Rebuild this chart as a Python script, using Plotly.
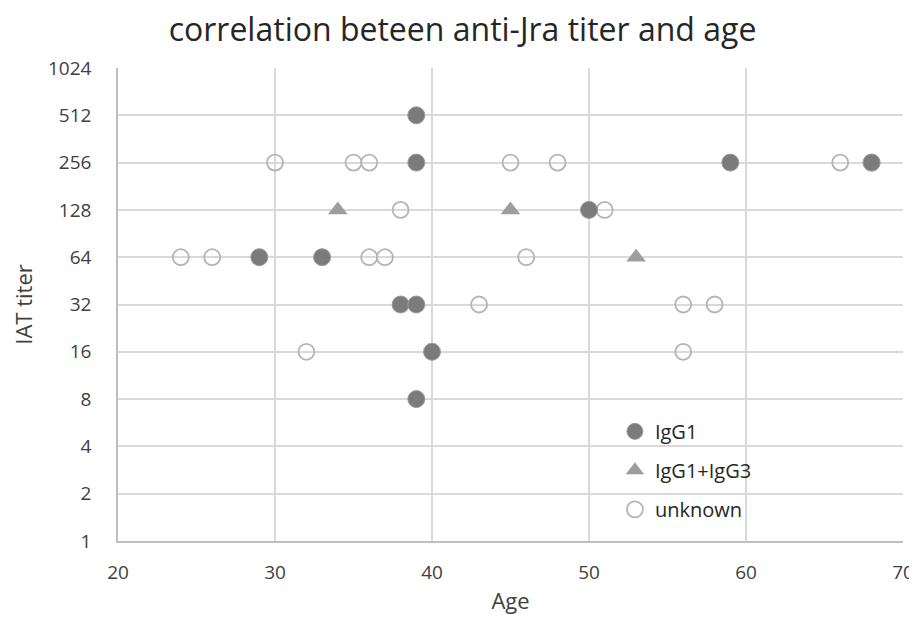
import plotly.graph_objects as go

# IgG1
igg1_age = [39, 39, 59, 68, 50, 29, 33, 38, 39, 40, 39]
igg1_titer = [512, 256, 256, 256, 128, 64, 64, 32, 32, 16, 8]
# IgG1+IgG3
igg13_age = [34, 45, 53]
igg13_titer = [128, 128, 64]
# unknown
unk_age = [30, 35, 36, 45, 48, 66, 68, 38, 51, 24, 26, 36, 37, 46, 43, 56, 58, 32, 56]
unk_titer = [256, 256, 256, 256, 256, 256, 256, 128, 128, 64, 64, 64, 64, 64, 32, 32, 32, 16, 16]

y_ticks = [1, 2, 4, 8, 16, 32, 64, 128, 256, 512, 1024]
x_ticks = [20, 30, 40, 50, 60, 70]

font = "Open Sans"
fig = go.Figure()
fig.add_trace(go.Scatter(
    x=unk_age, y=unk_titer, mode="markers", name="unknown", legendgroup="c", legendrank=3,
    marker=dict(symbol="circle-open", size=16, color="#b4b4b4", line=dict(width=1.8)),
))
fig.add_trace(go.Scatter(
    x=igg1_age, y=igg1_titer, mode="markers", name="IgG1", legendgroup="a", legendrank=1,
    marker=dict(symbol="circle", size=17, color="#7b7b7b", line=dict(color="#9a9a9a", width=1)),
))
fig.add_trace(go.Scatter(
    x=igg13_age, y=igg13_titer, mode="markers", name="IgG1+IgG3", legendgroup="b", legendrank=2,
    marker=dict(symbol="triangle-up", size=17, color="#9d9d9d", line=dict(width=0)),
))

fig.update_layout(
    width=909, height=607,
    margin=dict(l=110, r=14, t=60, b=74),
    paper_bgcolor="white", plot_bgcolor="white",
    font=dict(family=font, color="#404040", size=19),
    title=dict(text="correlation beteen anti-Jra titer and age", x=0.5, xanchor="center",
               y=1 - 22 / 607, yanchor="middle", font=dict(size=32, color="#262626", family=font)),
    xaxis=dict(range=[20, 70], tickvals=x_ticks, showgrid=True, gridcolor="#d9d9d9", gridwidth=1.5,
               showline=True, linecolor="#bfbfbf", linewidth=1.5, zeroline=False,
               ticks="", automargin=False, ticklabelstandoff=13, ticklabeloverflow="allow",
               title=dict(text="Age", font=dict(size=22, color="#404040"), standoff=17),
               tickfont=dict(size=19, color="#404040")),
    yaxis=dict(type="log", range=[0, 3.0103], tickvals=y_ticks, ticktext=[str(v) for v in y_ticks],
               showgrid=True, gridcolor="#d9d9d9", gridwidth=1.5,
               showline=True, linecolor="#bfbfbf", linewidth=1.5, zeroline=False,
               ticks="", automargin=False, ticklabelstandoff=21,
               title=dict(text="IAT titer", font=dict(size=22, color="#404040"), standoff=15),
               tickfont=dict(size=19, color="#404040")),
    legend=dict(x=0.633, y=0.273, xanchor="left", yanchor="top", bgcolor="rgba(0,0,0,0)",
                traceorder="grouped", tracegroupgap=10, itemwidth=30,
                font=dict(size=20, color="#262626")),
    showlegend=True,
)

fig.write_html("out.html")
